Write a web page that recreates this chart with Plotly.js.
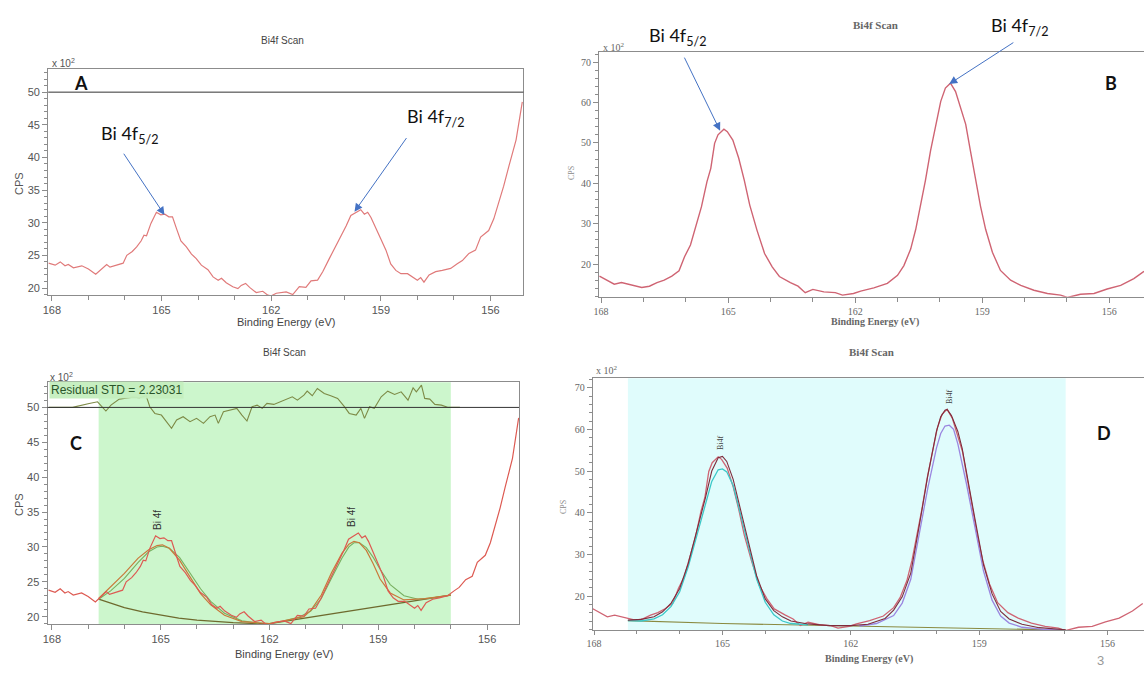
<!DOCTYPE html>
<html><head><meta charset="utf-8">
<script src="https://cdn.plot.ly/plotly-3.0.1.min.js"></script>
<style>html,body{margin:0;padding:0;background:#fff}#chart{width:1144px;height:680px}</style>
</head><body><div id="chart"></div>
<script>
// ---------- DATA (binding energy in eV, intensity in CPS x 10^2) ----------
// Panel A / C : raw Bi4f scan (sample 1)
const scanA_be  = [168.09,167.91,167.77,167.64,167.55,167.41,167.18,167.00,166.80,166.64,166.50,166.41,166.23,166.05,165.95,165.80,165.68,165.56,165.48,165.41,165.29,165.14,165.02,164.91,164.80,164.70,164.59,164.47,164.32,164.18,164.05,163.91,163.73,163.59,163.45,163.36,163.23,163.05,162.91,162.82,162.70,162.59,162.41,162.23,162.09,162.00,161.86,161.59,161.41,161.23,161.05,160.91,160.73,160.59,160.41,160.27,160.09,159.95,159.82,159.68,159.55,159.45,159.36,159.27,159.14,159.00,158.86,158.73,158.59,158.45,158.27,158.14,158.00,157.91,157.82,157.68,157.50,157.32,157.09,156.91,156.77,156.59,156.41,156.27,156.05,155.91,155.77,155.64,155.50,155.30,155.13];
const scanA_cps = [23.8,23.5,24.0,23.4,23.6,23.1,23.4,22.9,22.1,22.9,23.6,23.2,23.5,23.8,25.0,25.6,26.3,27.2,28.1,28.0,29.9,31.6,31.2,31.3,30.9,30.9,29.1,27.2,26.3,25.2,24.5,23.5,22.8,21.7,21.2,21.5,20.8,20.2,19.9,20.4,20.7,20.1,19.3,19.5,18.9,18.8,19.2,19.4,19.0,20.2,20.1,21.1,21.2,22.5,24.5,26.0,28.0,29.5,31.1,31.6,32.0,31.3,31.6,30.8,29.3,27.5,25.8,23.7,22.7,22.2,22.2,21.7,21.2,21.6,20.9,22.0,22.5,22.7,23.0,23.7,24.2,25.3,25.8,27.8,28.8,30.6,33.1,35.6,38.6,42.7,48.5];

// Panel B / D : raw Bi4f scan (sample 2)
const scanB_be  = [168.04,167.87,167.69,167.52,167.34,167.17,167.04,166.86,166.68,166.51,166.33,166.16,166.03,165.89,165.76,165.63,165.50,165.41,165.32,165.24,165.10,165.02,164.89,164.75,164.62,164.49,164.32,164.14,163.96,163.79,163.53,163.35,163.18,163.00,162.74,162.47,162.30,162.04,161.87,161.56,161.24,161.00,160.85,160.69,160.57,160.46,160.34,160.22,160.10,159.98,159.87,159.75,159.63,159.51,159.39,159.28,159.16,159.04,158.92,158.76,158.57,158.33,158.09,157.78,157.46,157.15,156.99,156.68,156.36,156.05,155.73,155.42,155.18];
const scanB_cps = [17.0,16.0,15.0,15.4,15.0,14.5,14.2,14.5,15.4,16.0,17.0,18.3,21.8,24.7,29.3,34.2,40.4,43.7,49.9,52.0,53.4,52.8,50.7,46.2,40.8,34.6,28.4,22.6,19.3,16.9,15.4,14.5,12.9,13.7,13.1,12.9,12.3,12.7,13.3,14.1,15.2,17.2,19.6,23.7,28.6,34.3,40.8,48.1,54.6,60.3,63.6,64.8,62.7,58.7,54.6,48.1,40.8,34.3,28.6,22.9,18.4,16.0,14.7,13.5,12.7,12.3,11.7,12.5,12.7,13.8,14.7,16.4,18.2];

// Panel C : fit region, background, envelope, components, residual
const fitRegionC = [166.71, 157.00];
const fitC_bg_be  = [166.71,166.40,166.00,165.50,165.00,164.50,164.00,163.50,163.00,162.50,162.00,157.00];
const fitC_bg_cps = [22.5,22.0,21.3,20.7,20.2,19.8,19.5,19.3,19.15,19.05,19.0,23.1];
const fitC_env_be  = [166.71,166.38,166.00,165.62,165.33,165.10,164.95,164.76,164.48,164.19,163.90,163.62,163.24,162.76,162.00,161.50,161.05,160.86,160.57,160.29,160.00,159.81,159.67,159.52,159.33,159.14,158.95,158.67,158.29,157.71,157.00];
const fitC_env_cps = [22.6,24.3,26.2,28.4,29.6,30.2,30.3,29.8,28.1,25.7,23.3,21.7,20.2,19.3,19.0,19.5,20.0,20.9,23.1,26.3,29.1,30.4,30.8,30.6,29.5,27.6,25.4,23.4,22.4,22.6,23.1];
const fitC_comp1_be  = [166.71,166.38,166.00,165.62,165.33,165.10,164.95,164.76,164.48,164.19,163.90,163.62,163.24,162.76,162.30];
const fitC_comp1_cps = [22.5,23.7,25.5,27.8,29.3,30.0,30.1,29.8,28.5,26.3,24.0,22.2,20.5,19.4,19.05];
const fitC_comp2_be  = [161.60,161.20,160.86,160.57,160.29,160.00,159.81,159.67,159.52,159.33,159.14,158.95,158.67,158.29,157.90,157.50,157.00];
const fitC_comp2_cps = [19.4,19.9,20.8,22.6,25.5,28.4,30.0,30.6,30.6,29.9,28.5,26.8,24.6,23.0,22.5,22.7,23.1];
const residC_be = [168.08,167.43,166.97,166.74,166.51,166.37,166.14,165.95,165.77,165.58,165.40,165.30,165.16,164.98,164.84,164.70,164.56,164.38,164.19,164.01,163.82,163.64,163.50,163.41,163.27,163.08,162.90,162.76,162.62,162.48,162.34,162.20,162.07,161.88,161.70,161.51,161.37,161.23,161.05,160.96,160.82,160.68,160.49,160.31,160.12,159.94,159.80,159.61,159.48,159.38,159.24,159.11,158.92,158.74,158.55,158.37,158.18,158.04,157.95,157.81,157.72,157.58,157.44,157.26,157.07,156.75];
const residC_val = [0,0,0.57,0.81,-0.52,0.33,1.19,1.38,1.48,1.38,1.67,0.10,-0.86,-1.10,-2.05,-3.00,-1.81,-1.33,-2.05,-1.57,-2.29,-1.33,-1.10,-2.29,-0.62,-0.38,-0.14,-1.10,-1.95,0.10,0.33,-0.14,0.57,0.43,0.81,1.19,1.52,1.05,1.76,2.33,1.67,2.71,2.00,1.67,1.29,0.14,-0.86,-1.10,-0.14,-1.57,0.10,-0.14,1.52,2.33,1.86,2.24,1.05,2.81,2.24,3.19,1.29,1.19,0.43,0.33,0,0];
const residualStd = '2.23031';

// Panel D : fit region, background, envelope, components
const fitRegionD = [167.21, 156.98];
const fitD_bg_be  = [167.21,165.00,162.00,159.00,156.98];
const fitD_bg_cps = [14.1,13.4,12.8,12.2,11.8];
const fitD_env_be  = [167.21,166.90,166.60,166.40,166.20,166.00,165.80,165.60,165.40,165.25,165.10,165.00,164.90,164.75,164.60,164.40,164.20,164.00,163.80,163.60,163.40,163.00,162.50,162.00,161.60,161.20,161.00,160.80,160.60,160.40,160.20,160.00,159.90,159.80,159.75,159.65,159.50,159.40,159.30,159.10,158.90,158.70,158.50,158.30,158.00,157.60,156.98];
const fitD_env_cps = [14.2,14.4,15.0,16.2,18.3,21.8,27.8,35.5,43.5,50.0,53.2,53.5,52.3,48.0,41.5,32.8,24.8,19.3,16.5,15.0,14.0,13.3,12.9,12.9,13.2,14.6,16.6,19.8,25.5,37.0,49.0,59.5,63.0,64.6,64.8,63.3,59.5,55.5,49.5,38.5,27.5,20.5,16.3,14.5,13.2,12.4,11.9];
const fitD_comp1_be  = [167.21,166.90,166.60,166.40,166.20,166.00,165.80,165.60,165.40,165.25,165.10,165.00,164.90,164.75,164.60,164.40,164.20,164.00,163.80,163.60,163.40,163.00];
const fitD_comp1_cps = [14.1,14.0,14.5,15.5,17.5,21.0,27.0,34.5,42.0,47.5,50.3,50.5,49.8,46.5,40.5,32.0,24.0,18.5,15.5,14.0,13.4,13.1];
const fitD_comp2_be  = [161.80,161.40,161.00,160.80,160.60,160.40,160.20,160.00,159.90,159.80,159.70,159.60,159.50,159.30,159.10,158.90,158.70,158.50,158.30,158.00,157.50,157.00];
const fitD_comp2_cps = [12.8,13.4,15.3,18.3,24.0,35.0,46.0,55.5,59.0,60.8,61.0,60.0,56.5,47.0,36.5,26.0,19.0,15.2,13.5,12.5,12.0,11.8];

// labels
const scanTitle = 'Bi4f Scan';
const xTitle = 'Binding Energy (eV)';
const yTitle = 'CPS';
const yScale = 'x 10<sup>2</sup>';
const panelLabels = ['A','B','C','D'];
const peakLabels = ['Bi 4f<sub>5/2</sub>','Bi 4f<sub>7/2</sub>'];
const compLabel = 'Bi 4f';
const compLabelD = 'Bi4f';

// ---------- LAYOUT ----------
const W = 1144, H = 680;
const fx = p => p / W, fy = p => 1 - p / H;
const SANS = 'Liberation Sans, Arial, sans-serif';
const SERIF = 'Liberation Serif, Times New Roman, serif';
const CALL = 'Lato, Open Sans, sans-serif';
const axisGrey = '#8c8c8c';

function xAx(dom, rng, anchor, font, tl){
  return {domain:dom, range:rng, anchor:anchor, showline:true, linecolor:axisGrey, linewidth:1, mirror:true,
    ticks:'outside', ticklen:tl, tickcolor:axisGrey, dtick:3, tick0:0,
    minor:{dtick:1, ticks:'outside', ticklen:tl-1, tickcolor:axisGrey},
    showgrid:false, zeroline:false, tickfont:font, fixedrange:true};
}
function yAx(dom, rng, anchor, font, major, minor, mirror){
  return {domain:dom, range:rng, anchor:anchor, showline:true, linecolor:axisGrey, linewidth:1, mirror:mirror,
    ticks:'outside', ticklen:5, tickcolor:axisGrey, dtick:major, tick0:0,
    minor:{dtick:minor, ticks:'outside', ticklen:3, tickcolor:axisGrey},
    showgrid:false, zeroline:false, tickfont:font, fixedrange:true};
}
const fSans = {family:SANS, size:11, color:'#555'};
const fSerif = {family:SERIF, size:10, color:'#666'};

const line = (x, y, xa, ya, color, width, dash) => ({type:'scatter', mode:'lines', x:x, y:y, xaxis:xa, yaxis:ya,
  line:{color:color, width:width||1.2, dash:dash||'solid'}, hoverinfo:'skip', showlegend:false});

const rawRedA = '#e07a7a', rawRedB = '#cf6473';
const traces = [
  line(scanA_be, scanA_cps, 'x', 'y', rawRedA, 1.2),
  line(scanB_be, scanB_cps, 'x2', 'y2', rawRedB, 1.4),
  // C
  line(residC_be, residC_val.map(r => 50 + r), 'x3', 'y3', '#7d8a46', 1.1),
  line(fitC_bg_be, fitC_bg_cps, 'x3', 'y3', '#6e6a2e', 1.3),
  line(fitC_comp1_be, fitC_comp1_cps, 'x3', 'y3', '#78b060', 1.1),
  line(fitC_comp2_be, fitC_comp2_cps, 'x3', 'y3', '#78b060', 1.1),
  line(fitC_env_be, fitC_env_cps, 'x3', 'y3', '#c9783a', 1.2),
  line(scanA_be, scanA_cps, 'x3', 'y3', '#dd5a52', 1.2),
  // D
  line(fitD_bg_be, fitD_bg_cps, 'x4', 'y4', '#8a8a40', 1.2),
  line(scanB_be, scanB_cps, 'x4', 'y4', rawRedB, 1.3),
  line(fitD_comp1_be, fitD_comp1_cps, 'x4', 'y4', '#3cc8c8', 1.3),
  line(fitD_comp2_be, fitD_comp2_cps, 'x4', 'y4', '#9a86e0', 1.3),
  line(fitD_env_be, fitD_env_cps, 'x4', 'y4', '#7e2c3c', 1.1)
];

const ann = [];
const txt = (t, x, y, font, extra) => ann.push(Object.assign({text:t, x:fx(x), y:fy(y), xref:'paper', yref:'paper',
  xanchor:'center', yanchor:'middle', showarrow:false, font:font}, extra||{}));
// titles
txt(scanTitle, 282, 40, {family:SANS, size:10, color:'#444'});
txt('<b>'+scanTitle+'</b>', 875, 25, {family:SERIF, size:11, color:'#666'});
txt(scanTitle, 284, 352, {family:SANS, size:10, color:'#444'});
txt('<b>'+scanTitle+'</b>', 871, 352, {family:SERIF, size:11, color:'#666'});
// x titles
txt(xTitle, 286, 322, {family:SANS, size:11, color:'#444'});
txt('<b>'+xTitle+'</b>', 875, 322, {family:SERIF, size:10, color:'#666'});
txt(xTitle, 284, 654, {family:SANS, size:11, color:'#444'});
txt('<b>'+xTitle+'</b>', 869, 659, {family:SERIF, size:10, color:'#666'});
// y titles
txt(yTitle, 19, 184, {family:SANS, size:11, color:'#555'}, {textangle:-90});
txt(yTitle, 19, 505, {family:SANS, size:11, color:'#555'}, {textangle:-90});
txt(yTitle, 571, 173, {family:SERIF, size:8, color:'#888'}, {textangle:-90});
txt(yTitle, 563, 507, {family:SERIF, size:8, color:'#888'}, {textangle:-90});
// x10^2
txt(yScale, 63, 63, {family:SANS, size:10, color:'#555'});
txt(yScale, 614, 47, {family:SERIF, size:10, color:'#666'});
txt(yScale, 62, 377, {family:SANS, size:10, color:'#555'});
txt(yScale, 607, 370, {family:SERIF, size:10, color:'#666'});
// panel labels
const fLab = {family:CALL, size:18, color:'#111'};
txt('<b>'+panelLabels[0]+'</b>', 81, 83, fLab);
txt('<b>'+panelLabels[1]+'</b>', 1111, 83, fLab);
txt('<b>'+panelLabels[2]+'</b>', 76, 443, fLab);
txt('<b>'+panelLabels[3]+'</b>', 1104, 433, fLab);
// peak call-outs
const fCall = {family:CALL, size:18, color:'#111'};
txt(peakLabels[0], 129, 135, fCall);
txt(peakLabels[1], 435, 117, fCall);
txt(peakLabels[0], 677, 36, fCall);
txt(peakLabels[1], 1019, 27, fCall);
// component labels
txt(compLabel, 157, 520, {family:SANS, size:10, color:'#333'}, {textangle:-90});
txt(compLabel, 351, 517, {family:SANS, size:10, color:'#333'}, {textangle:-90});
txt(compLabelD, 720, 443, {family:SERIF, size:8, color:'#444'}, {textangle:-90});
txt(compLabelD, 949, 397, {family:SERIF, size:8, color:'#444'}, {textangle:-90});
// residual std
txt('Residual STD = ' + residualStd, 116, 390, {family:SANS, size:12, color:'#2a552a'}, {bgcolor:'rgba(196,238,190,0.95)', borderpad:1});
// page number
txt('3', 1100, 660, {family:SANS, size:13, color:'#999'});

// arrows (tip at peak, tail toward label)
const arrow = (xa, ya, x, y, ax, ay) => ann.push({text:'', xref:xa, yref:ya, axref:xa, ayref:ya, x:x, y:y, ax:ax, ay:ay,
  showarrow:true, arrowhead:2, arrowsize:1.6, arrowwidth:1, arrowcolor:'#4472c4', standoff:0});
arrow('x', 'y', 164.92, 31.2, 166.06, 40.8);
arrow('x', 'y', 159.72, 31.7, 158.27, 43.2);
arrow('x2', 'y2', 165.19, 53.0, 166.05, 71.5);
arrow('x2', 'y2', 159.78, 64.6, 158.23, 75.1);

const shapes = [
  {type:'rect', xref:'x3', yref:'y3 domain', x0:fitRegionC[0], x1:fitRegionC[1], y0:0, y1:1, fillcolor:'#ccf6cc', line:{width:0}, layer:'below'},
  {type:'rect', xref:'x4', yref:'y4 domain', x0:fitRegionD[0], x1:fitRegionD[1], y0:0, y1:1, fillcolor:'#e0fcfc', line:{width:0}, layer:'below'},
  {type:'line', xref:'x domain', yref:'y', x0:0, x1:1, y0:50, y1:50, line:{color:'#333', width:1}},
  {type:'line', xref:'x3 domain', yref:'y3', x0:0, x1:1, y0:50, y1:50, line:{color:'#333', width:1}}
];

const layout = {
  width:W, height:H, margin:{l:0, r:0, t:0, b:0}, paper_bgcolor:'#fff', plot_bgcolor:'rgba(0,0,0,0)', showlegend:false,
  xaxis:  xAx([fx(48.2), fx(523.4)], [168.1, 155.1], 'y', fSans, 5),
  yaxis:  yAx([fy(295), fy(69.3)], [18.93, 53.5], 'x', fSans, 5, 1, true),
  xaxis2: xAx([fx(599), 1], [168.05, 155.18], 'y2', fSerif, 5),
  yaxis2: yAx([fy(296.7), fy(51.7)], [11.9, 72.6], 'x2', fSerif, 10, 2, false),
  xaxis3: xAx([fx(47.5), fx(519)], [168.12, 155.12], 'y3', fSans, 5),
  yaxis3: yAx([fy(624), fy(382.3)], [18.95, 53.6], 'x3', fSans, 5, 1, true),
  xaxis4: xAx([fx(592.8), 1], [168.03, 155.15], 'y4', fSerif, 4),
  yaxis4: yAx([fy(630), fy(378.3)], [11.84, 72.25], 'x4', fSerif, 10, 2, false),
  annotations: ann, shapes: shapes
};
Plotly.newPlot('chart', traces, layout, {displayModeBar:false, staticPlot:true});
</script></body></html>
